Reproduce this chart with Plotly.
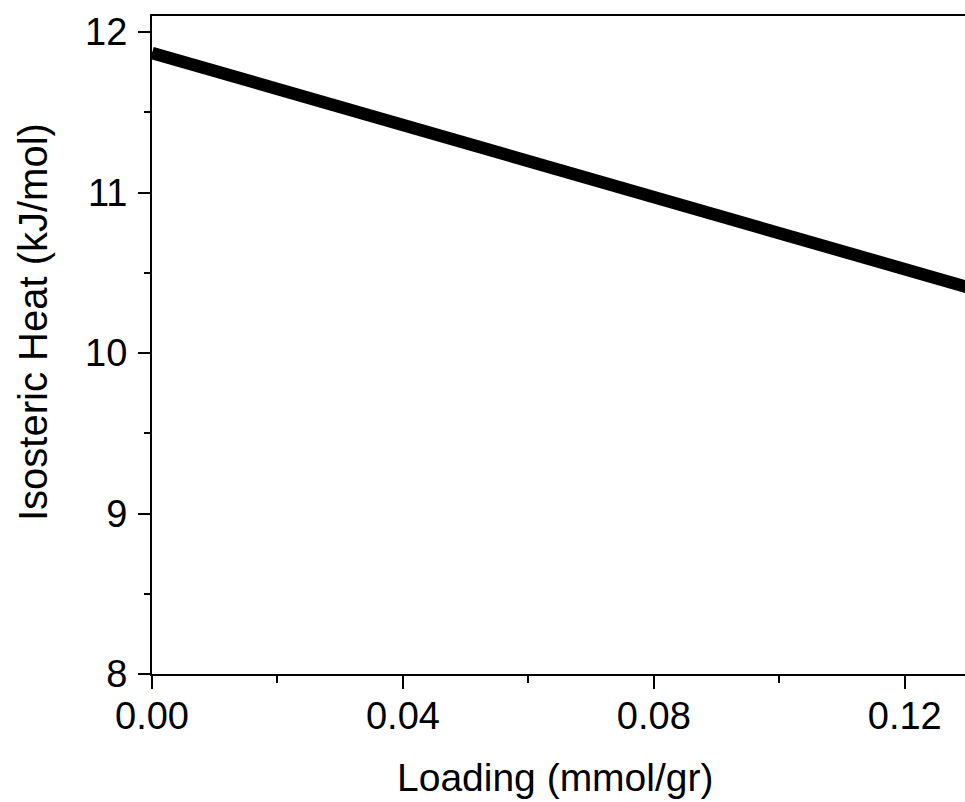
import plotly.graph_objects as go

loading = [0.0, 0.04, 0.08, 0.12, 0.13]
heat = [11.87, 11.42, 10.97, 10.52, 10.41]

x_ticks = [0.0, 0.04, 0.08, 0.12]
x_ticklabels = ["0.00", "0.04", "0.08", "0.12"]
y_ticks = [8, 9, 10, 11, 12]
y_ticklabels = ["8", "9", "10", "11", "12"]

FONT = "Liberation Sans, Arial, sans-serif"

fig = go.Figure()
fig.add_trace(go.Scatter(x=loading, y=heat, mode="lines",
                         line=dict(color="black", width=12.5), showlegend=False))

L, T, B, R = 152, 16, 128, 0
W, H = 965, 802
ph = H - T - B

fig.update_layout(
    width=W, height=H,
    margin=dict(l=L, r=R, t=T, b=B, pad=0),
    plot_bgcolor="white", paper_bgcolor="white",
    font=dict(family=FONT, size=38, color="black"),
    xaxis=dict(range=[0, 0.1296], tickvals=x_ticks, ticktext=x_ticklabels,
               ticks="outside", ticklen=13, tickwidth=2, tickcolor="black",
               showline=True, linecolor="black", linewidth=2, mirror=True,
               showgrid=False, zeroline=False,
               tickfont=dict(size=38), ticklabelstandoff=-6,
               minor=dict(tickvals=[0.02, 0.06, 0.10], ticks="outside", ticklen=7,
                          tickwidth=2, tickcolor="black", showgrid=False)),
    yaxis=dict(range=[8, 12.1], tickvals=y_ticks, ticktext=y_ticklabels,
               ticks="outside", ticklen=12, tickwidth=2, tickcolor="black",
               showline=True, linecolor="black", linewidth=2,
               showgrid=False, zeroline=False,
               tickfont=dict(size=38), ticklabelstandoff=3,
               minor=dict(tickvals=[8.5, 9.5, 10.5, 11.5], ticks="outside", ticklen=6,
                          tickwidth=2, tickcolor="black", showgrid=False)),
    annotations=[
        dict(text="Loading (mmol/gr)", xref="paper", yref="paper",
             x=(555 - L) / (W - L - R), y=(H - B - 778) / ph,
             xanchor="center", yanchor="middle", showarrow=False,
             font=dict(size=39, family=FONT)),
        dict(text="Isosteric Heat (kJ/mol)", xref="paper", yref="paper",
             x=(33 - L) / (W - L - R), y=(H - B - 322) / ph, textangle=-90,
             xanchor="center", yanchor="middle", showarrow=False,
             font=dict(size=40, family=FONT)),
    ],
)

fig.write_html("out.html")
